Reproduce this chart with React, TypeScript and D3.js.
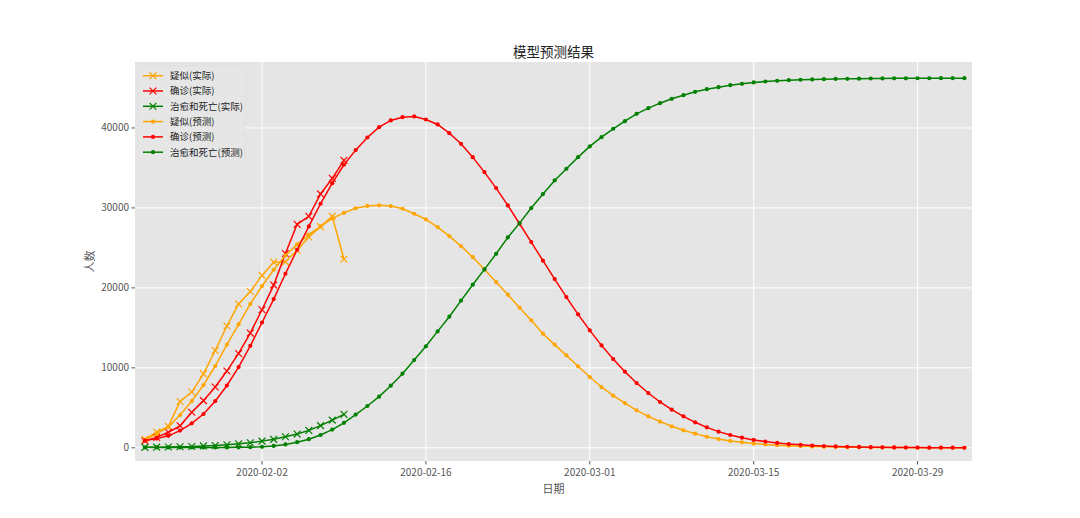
import * as d3 from "d3";

// 实际数据（2020-01-23 起，每日）
const suspectedActual = [1072, 1965, 2684, 5794, 6973, 9239, 12167, 15238, 17988, 19544, 21558, 23214, 23260, 24702, 26359, 27657, 28942, 23589];
const confirmedActual = [850, 1300, 1950, 2750, 4450, 5900, 7600, 9600, 11800, 14350, 17270, 20350, 24300, 27950, 28950, 31750, 33700, 35950];
const removedActual = [59, 79, 105, 131, 166, 235, 294, 384, 502, 632, 836, 1057, 1382, 1716, 2176, 2772, 3460, 4189];

// 模型预测（2020-01-23 至 2020-04-02）
const suspectedPred = [
  1020, 1700, 2600, 4100, 5850, 7850, 10230, 12900, 15440, 18000,
  20230, 22270, 24060, 25440, 26650, 27690, 28700, 29380, 29960, 30250,
  30330, 30230, 29900, 29270, 28560, 27600, 26480, 25230, 23850, 22310,
  20730, 19150, 17520, 15940, 14270, 12900, 11560, 10190, 8850, 7600,
  6520, 5600, 4690, 3940, 3270, 2690, 2190, 1770, 1380, 1090,
  860, 680, 530, 420, 330, 260, 205, 160, 125, 100,
  78, 62, 48, 38, 30, 24, 19, 15, 12, 9, 7,
];
const confirmedPred = [
  900, 1150, 1500, 2150, 3060, 4230, 5830, 7790, 10100, 12750,
  15670, 18600, 21770, 24770, 27690, 30520, 33100, 35400, 37230, 38810,
  40100, 40940, 41350, 41440, 41060, 40440, 39350, 38020, 36350, 34480,
  32480, 30310, 28020, 25730, 23400, 21100, 18850, 16690, 14690, 12810,
  11100, 9520, 8100, 6850, 5730, 4770, 3940, 3190, 2560, 2020,
  1600, 1270, 980, 780, 610, 470, 370, 290, 225, 175,
  135, 105, 80, 62, 48, 37, 29, 22, 17, 13, 10,
];
const removedPred = [
  59, 50, 45, 40, 40, 40, 45, 50, 60, 80,
  120, 230, 420, 700, 1080, 1600, 2280, 3120, 4150, 5230,
  6400, 7770, 9270, 10980, 12690, 14560, 16400, 18400, 20400, 22310,
  24270, 26310, 28100, 29980, 31730, 33440, 34900, 36350, 37690, 38850,
  39900, 40850, 41770, 42480, 43100, 43650, 44100, 44520, 44850, 45100,
  45350, 45520, 45690, 45810, 45900, 45980, 46030, 46070, 46100, 46130,
  46150, 46170, 46185, 46195, 46205, 46210, 46215, 46220, 46222, 46224, 46225,
];

const xTickLabels = ["2020-02-02", "2020-02-16", "2020-03-01", "2020-03-15", "2020-03-29"];
const yTicks = [0, 10000, 20000, 30000, 40000];

const START = new Date(Date.UTC(2020, 0, 23));
const dayAt = (i: number) => d3.utcDay.offset(START, i);

const series = [
  { name: "疑似(实际)", color: "orange", marker: "x", values: suspectedActual },
  { name: "确诊(实际)", color: "red", marker: "x", values: confirmedActual },
  { name: "治愈和死亡(实际)", color: "green", marker: "x", values: removedActual },
  { name: "疑似(预测)", color: "orange", marker: ".", values: suspectedPred },
  { name: "确诊(预测)", color: "red", marker: ".", values: confirmedPred },
  { name: "治愈和死亡(预测)", color: "green", marker: ".", values: removedPred },
];

const W = 1080;
const H = 518;
const plot = { left: 135, right: 972, top: 62, bottom: 461 };
const FONT = "'Noto Sans CJK SC', 'Noto Sans', sans-serif";

function Marker({ type, x, y, color }: { type: string; x: number; y: number; color: string }) {
  if (type === "x") {
    const s = 3.4;
    return (
      <path
        d={`M${x - s},${y - s}L${x + s},${y + s}M${x - s},${y + s}L${x + s},${y - s}`}
        stroke={color}
        strokeWidth={1.2}
        fill="none"
      />
    );
  }
  return <circle cx={x} cy={y} r={2.1} fill={color} />;
}

export default function App() {
  const x = d3
    .scaleUtc()
    .domain([new Date(Date.UTC(2020, 0, 22, 3, 36)), new Date(Date.UTC(2020, 3, 2, 15, 36))])
    .range([plot.left, plot.right]);
  const y = d3.scaleLinear().domain([-1650, 48250]).range([plot.bottom, plot.top]);

  const xTicks = xTickLabels.map((s) => d3.utcParse("%Y-%m-%d")(s)!);
  const line = d3
    .line<number>()
    .x((_, i) => x(dayAt(i)))
    .y((v) => y(v));

  const legendRows = series.map((s, i) => ({ ...s, ly: 75.7 + i * 15.3 }));

  return (
    <svg
      width={W}
      height={H}
      style={{ position: "absolute", left: 0, top: 0, background: "#fff" }}
      fontFamily={FONT}
    >
      <rect
        x={plot.left}
        y={plot.top}
        width={plot.right - plot.left}
        height={plot.bottom - plot.top}
        fill="#e5e5e5"
      />
      {/* grid */}
      {yTicks.map((t) => (
        <line key={"gy" + t} x1={plot.left} x2={plot.right} y1={y(t)} y2={y(t)} stroke="#fff" strokeWidth={1} />
      ))}
      {xTicks.map((t, i) => (
        <line key={"gx" + i} x1={x(t)} x2={x(t)} y1={plot.top} y2={plot.bottom} stroke="#fff" strokeWidth={1} />
      ))}

      {/* series */}
      {series.map((s) => (
        <g key={s.name}>
          <path d={line(s.values) ?? ""} fill="none" stroke={s.color} strokeWidth={1.5} />
          {s.values.map((v, i) => (
            <Marker key={i} type={s.marker} x={x(dayAt(i))} y={y(v)} color={s.color} />
          ))}
        </g>
      ))}

      {/* x axis */}
      {xTicks.map((t, i) => (
        <g key={"xt" + i} transform={`translate(${x(t)},${plot.bottom})`}>
          <line y1={0} y2={3.5} stroke="#555" />
          <text y={15} textAnchor="middle" fontSize={10} fill="#555">
            {xTickLabels[i]}
          </text>
        </g>
      ))}
      {/* y axis */}
      {yTicks.map((t) => (
        <g key={"yt" + t} transform={`translate(${plot.left},${y(t)})`}>
          <line x1={-3.5} x2={0} stroke="#555" />
          <text x={-6} dy="0.35em" textAnchor="end" fontSize={10} fill="#555">
            {t}
          </text>
        </g>
      ))}

      <text x={(plot.left + plot.right) / 2} y={493} textAnchor="middle" fontSize={11} fill="#555">
        日期
      </text>
      <text
        transform={`translate(94,${(plot.top + plot.bottom) / 2}) rotate(-90)`}
        textAnchor="middle"
        fontSize={11}
        fill="#555"
      >
        人数
      </text>
      <text x={(plot.left + plot.right) / 2} y={57} textAnchor="middle" fontSize={13.5} fill="#222">
        模型预测结果
      </text>

      {/* legend */}
      <rect x={138} y={66} width={107} height={96} fill="#e5e5e5" fillOpacity={0.9} stroke="#dedede" strokeWidth={0.8} rx={2} />
      {legendRows.map((r) => (
        <g key={"lg" + r.name}>
          <line x1={143} x2={163} y1={r.ly} y2={r.ly} stroke={r.color} strokeWidth={1.5} />
          <Marker type={r.marker} x={153} y={r.ly} color={r.color} />
          <text x={170} y={r.ly} dy="0.35em" fontSize={9.5} fill="#222">
            {r.name}
          </text>
        </g>
      ))}
    </svg>
  );
}
